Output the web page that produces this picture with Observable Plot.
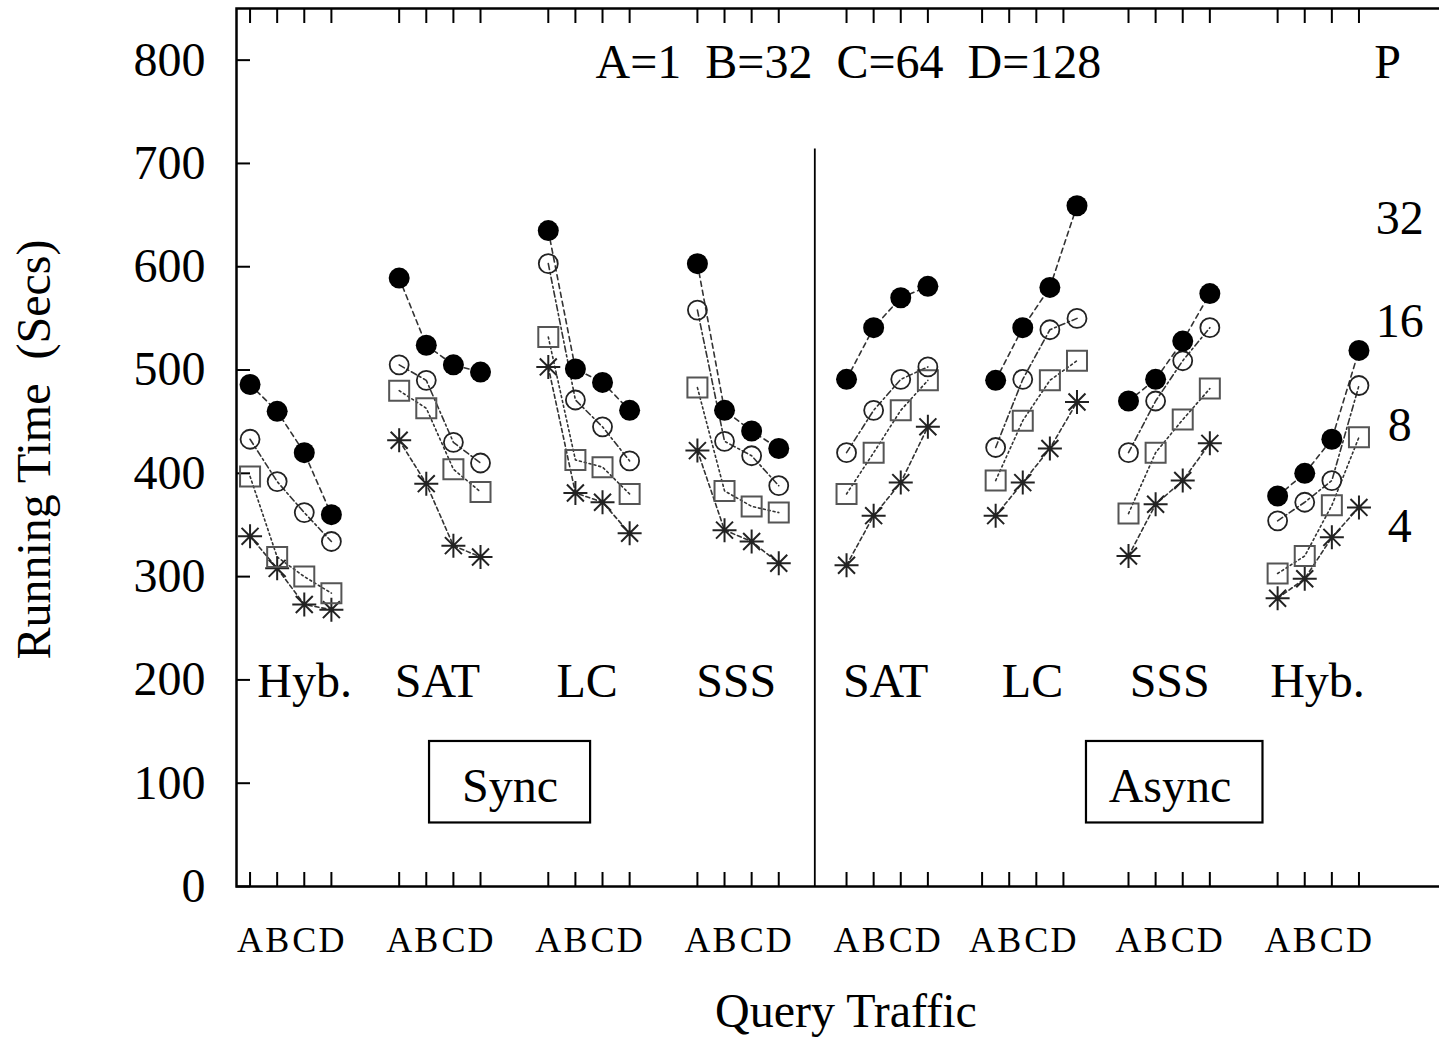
<!DOCTYPE html>
<html><head><meta charset="utf-8">
<script src="https://cdn.jsdelivr.net/npm/d3@7"></script>
<script src="https://cdn.jsdelivr.net/npm/@observablehq/plot@0.6"></script>
<style>
html,body{margin:0;padding:0;background:#fff;overflow:hidden;}
#chart{width:1439px;height:1037px;overflow:hidden;position:relative;}
#chart svg{max-width:none !important;display:block;}
svg text{white-space:pre;}
</style></head><body><div id="chart"></div>
<script>
// ---- data ----
const groups = ["Hyb.","SAT","LC","SSS","SAT","LC","SSS","Hyb."];
const modes = ["Sync","Sync","Sync","Sync","Async","Async","Async","Async"];
const traffic = ["A","B","C","D"];
const trafficValues = [1,32,64,128];
const procs = [32,16,8,4];
// position of the "A" slot of each group on the x axis (slot units)
const groupTickStart = [0.5,6,11.5,17,22.5,27.5,32.9,38.4];
const groupPointShift = [0,0,0,0,0,0.5,0,0];
const groupLabelX = [2.51,7.41,12.93,18.43,23.94,29.36,34.42,39.87];
const groupLabelY = 198;

// running time (secs), one row per group, columns A..D
const p32 = [[486,460,420,360],[589,524,505,498],[635,501,488,461],[603,461,441,424],
             [491,541,570,581],[490,541,580,659],[470,491,528,574],[378,400,433,519]];
const p16 = [[433,392,362,334],[505,490,430,410],[603,471,445,412],[558,431,417,388],
             [420,461,491,503],[425,491,539,550],[420,470,509,541],[354,372,393,485]];
const p8  = [[397,319,300,284],[480,463,404,382],[532,413,406,380],[483,383,368,362],
             [380,420,461,490],[393,451,490,509],[361,420,452,482],[303,320,369,435]];
const p4  = [[339,308,273,268],[432,390,330,319],[503,381,372,342],[422,345,334,313],
             [311,359,391,445],[359,391,424,469],[320,370,393,429],[279,298,338,367]];

const yTicks = [0,100,200,300,400,500,600,700,800];
const legendX = 42.9;
const legendY = [647,547,446,348];
const dividerX = 21.33, dividerTop = 714;
const boxes = [
  {label:"Sync", x1:7.12, x2:13.06, y1:61.5, y2:140.4, tx:10.09, ty:97},
  {label:"Async", x1:31.35, x2:37.86, y1:61.5, y2:140.4, tx:34.43, ty:97}
];

// ---- build tables ----
const seriesVals = [p32,p16,p8,p4];
const rows = [];
groups.forEach((g,gi)=>{
  procs.forEach((p,si)=>{
    traffic.forEach((t,ti)=>{
      rows.push({group:gi, name:g, mode:modes[gi], proc:p, q:t,
        x: groupTickStart[gi] + groupPointShift[gi] + ti, y: seriesVals[si][gi][ti]});
    });
  });
});
const xTicks = [], letterAt = new Map();
groupTickStart.forEach(s=>traffic.forEach((t,ti)=>{xTicks.push(s+ti); letterAt.set(s+ti,t);}));

// ---- symbols ----
const starSym = {draw(ctx,size){const r=Math.sqrt(size/Math.PI); const d=r*0.7071;
  ctx.moveTo(-r,0);ctx.lineTo(r,0);ctx.moveTo(0,-r);ctx.lineTo(0,r);
  ctx.moveTo(-d,-d);ctx.lineTo(d,d);ctx.moveTo(-d,d);ctx.lineTo(d,-d);}};
const squareSym = {draw(ctx,size){const r=Math.sqrt(size/Math.PI); ctx.rect(-r,-r,2*r,2*r);}};

const style = {
  32:{dash:"5,4"},
  16:{dash:"6,3,2,3"},
  8:{dash:"2,3"},
  4:{dash:"4,3"}
};

const lineMarks = procs.map(p=>Plot.line(rows.filter(d=>d.proc===p),
  {x:"x", y:"y", z:"group", stroke:"#333", strokeWidth:1.6, strokeDasharray:style[p].dash}));

const chart = Plot.plot({
  width:1455, height:1037,
  marginLeft:236, marginRight:3, marginTop:8, marginBottom:151,
  style:{fontFamily:"'Liberation Serif', 'Times New Roman', serif", fontSize:"48px", background:"#fff", color:"#000", maxWidth:"none", overflow:"visible"},
  x:{domain:[0,44.85]},
  y:{domain:[0,850]},
  marks:[
    Plot.frame({stroke:"#000", strokeWidth:2.5}),
    // y tick labels and inward ticks
    Plot.axisY({anchor:"left", ticks:yTicks, tickSize:0, tickPadding:31, fontSize:48, label:null}),
    Plot.axisY({anchor:"left", ticks:yTicks, tickSize:14, dx:14, strokeWidth:2, tickFormat:()=>"", label:null}),
    Plot.axisY({anchor:"right", ticks:yTicks, tickSize:14, dx:-14, strokeWidth:2, tickFormat:()=>"", label:null}),
    // x ticks (inward) top and bottom, and letter labels
    Plot.axisX({anchor:"bottom", ticks:xTicks, tickSize:14, dy:-14, strokeWidth:2, tickFormat:()=>"", label:null}),
    Plot.axisX({anchor:"top", ticks:xTicks, tickSize:14, dy:14, strokeWidth:2, tickFormat:()=>"", label:null}),
    Plot.axisX({anchor:"bottom", ticks:xTicks, tickSize:0, tickPadding:40, fontSize:36, tickFormat:d=>letterAt.get(d), label:null}),
    // divider
    Plot.ruleX([dividerX], {y1:0, y2:dividerTop, stroke:"#000", strokeWidth:1.8}),
    // boxes
    Plot.rect(boxes, {x1:"x1", x2:"x2", y1:"y1", y2:"y2", fill:"none", stroke:"#000", strokeWidth:2.2}),
    Plot.text(boxes, {x:"tx", y:"ty", text:"label", fontSize:48}),
    // group labels
    Plot.text(groups, {x:(d,i)=>groupLabelX[i], y:()=>groupLabelY, text:d=>d, fontSize:48}),
    // header
    Plot.text([traffic.map((t,i)=>`${t}=${trafficValues[i]}`).join("  ")], {x:22.57, y:798, text:d=>d, fontSize:48}),
    Plot.text(["P"], {x:42.46, y:798, text:d=>d, fontSize:48}),
    Plot.text(procs, {x:()=>legendX, y:(d,i)=>legendY[i], text:d=>String(d), fontSize:48}),
    // axis titles
    Plot.text(["Running Time  (Secs)"], {x:-7.43, y:423, text:d=>d, rotate:-90, fontSize:48}),
    Plot.text(["Query Traffic"], {x:22.48, y:-121, text:d=>d, fontSize:48}),
    // lines
    ...lineMarks,
    // markers
    Plot.dot(rows.filter(d=>d.proc===4), {x:"x", y:"y", symbol:starSym, r:12, fill:"none", stroke:"#222", strokeWidth:2}),
    Plot.dot(rows.filter(d=>d.proc===8), {x:"x", y:"y", symbol:squareSym, r:10, fill:"none", stroke:"#555", strokeWidth:2}),
    Plot.dot(rows.filter(d=>d.proc===16), {x:"x", y:"y", symbol:"circle", r:9.5, fill:"none", stroke:"#222", strokeWidth:1.8}),
    Plot.dot(rows.filter(d=>d.proc===32), {x:"x", y:"y", symbol:"circle", r:10.5, fill:"#000", stroke:"none"})
  ]
});
document.getElementById("chart").appendChild(chart);
</script></body></html>
